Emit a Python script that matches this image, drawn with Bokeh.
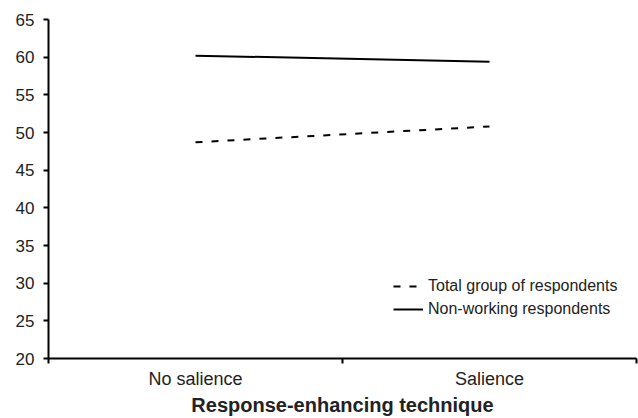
from bokeh.plotting import figure
from bokeh.models import Range1d, FixedTicker, Legend, LegendItem
from bokeh.embed import file_html
from bokeh.resources import INLINE

categories = ["No salience", "Salience"]
cat_pos = [0.5, 1.5]
total_group = [48.7, 50.8]
non_working = [60.2, 59.4]
y_ticks = [20, 25, 30, 35, 40, 45, 50, 55, 60, 65]

FONT = "Liberation Sans"

p = figure(width=638, height=418, output_backend="svg", toolbar_location=None,
           x_range=Range1d(0, 2), y_range=Range1d(20, 65),
           min_border_left=48, min_border_right=2, min_border_top=19, min_border_bottom=59)
p.outline_line_color = None
p.xgrid.visible = False
p.ygrid.visible = False

r_total = p.line(cat_pos, total_group, line_color="black", line_width=2, line_dash="7 9")
r_non = p.line(cat_pos, non_working, line_color="black", line_width=2)

p.xaxis.ticker = FixedTicker(ticks=cat_pos, minor_ticks=[0, 1, 2])
p.xaxis.major_label_overrides = {0.5: categories[0], 1.5: categories[1]}
p.xaxis.major_tick_out = 0
p.xaxis.major_tick_in = 0
p.xaxis.minor_tick_out = 5
p.xaxis.minor_tick_in = 0
p.xaxis.minor_tick_line_color = "black"
p.xaxis.minor_tick_line_width = 2
p.xaxis.axis_label = "Response-enhancing technique"
p.xaxis.axis_label_text_font = FONT
p.xaxis.axis_label_text_font_style = "bold"
p.xaxis.axis_label_text_font_size = "20px"
p.xaxis.axis_label_standoff = 2
p.xaxis.major_label_text_font = FONT
p.xaxis.major_label_text_font_size = "18px"
p.xaxis.major_label_standoff = 5

p.yaxis.ticker = FixedTicker(ticks=y_ticks)
p.yaxis.minor_tick_line_color = None
p.yaxis.major_tick_out = 5
p.yaxis.major_tick_in = 0
p.yaxis.major_label_text_font = FONT
p.yaxis.major_label_text_font_size = "17px"
p.yaxis.major_label_standoff = 9

for ax in (p.xaxis, p.yaxis):
    ax.axis_line_color = "black"
    ax.axis_line_width = 2
    ax.major_tick_line_color = "black"
    ax.major_tick_line_width = 2
    ax.major_label_text_color = "#222222"
    ax.axis_label_text_color = "#222222"

legend = Legend(items=[
    LegendItem(label="Total group of respondents", renderers=[r_total]),
    LegendItem(label="Non-working respondents", renderers=[r_non]),
], location=(345, 39), padding=0, margin=0, spacing=3,
    glyph_width=30, glyph_height=20, label_height=20, label_standoff=5,
    label_text_font=FONT, label_text_font_size="16px", label_text_color="#222222",
    border_line_alpha=0, background_fill_alpha=0)
p.add_layout(legend, "center")

open("out.html", "w").write(file_html(p, INLINE))
